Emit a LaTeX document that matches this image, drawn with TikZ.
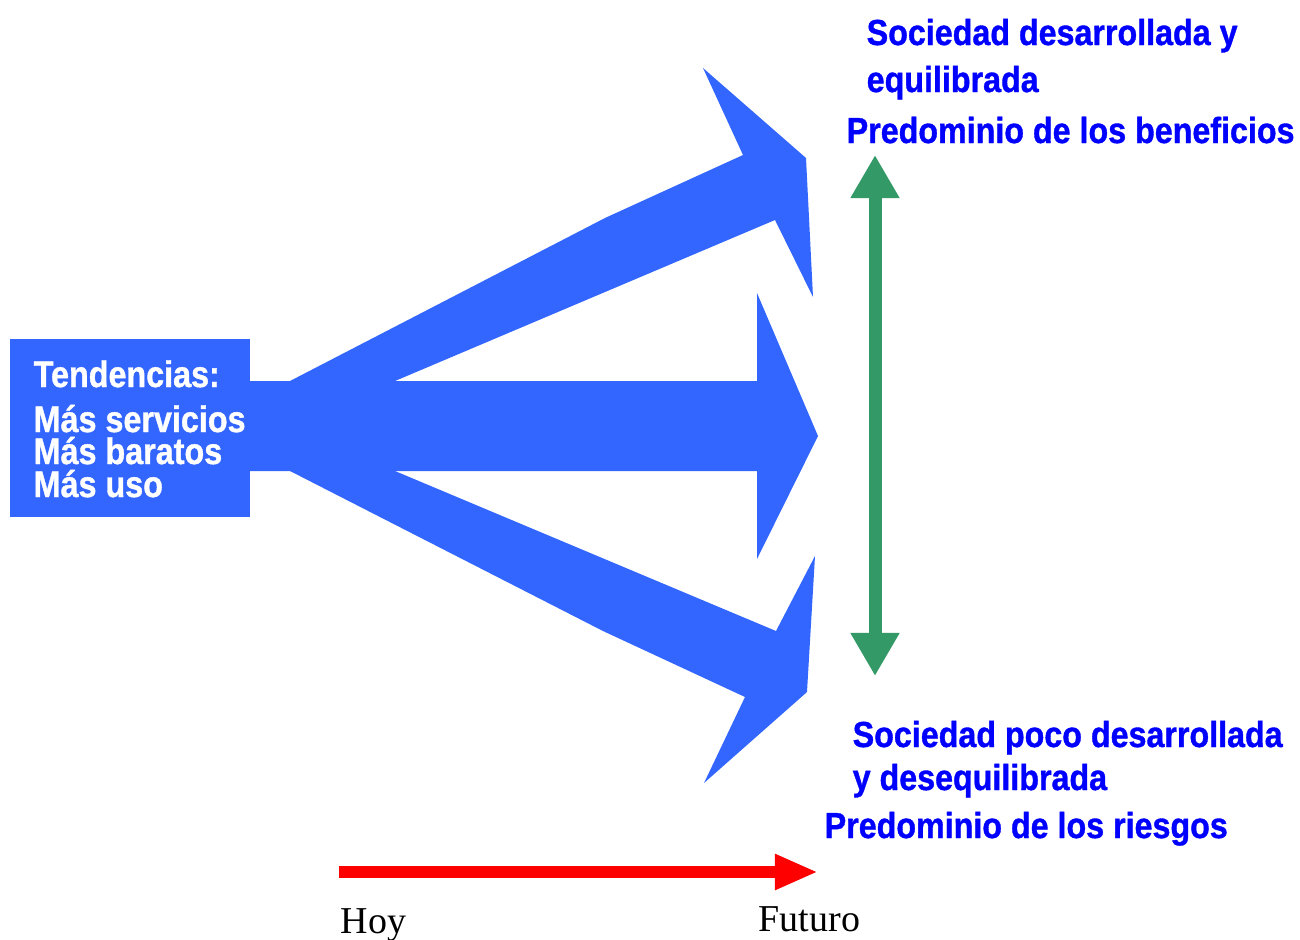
\documentclass[tikz,border=0pt]{standalone}
\usepackage{fontspec}
\usepackage{tikz}
\usetikzlibrary{arrows.meta, positioning}
\newfontfamily\impactfont[FakeStretch=0.875, BoldFeatures={FakeBold=1}]{Liberation Sans}
\newfontfamily\impactwide[FakeStretch=0.89, BoldFeatures={FakeBold=1}]{Liberation Sans}
\newfontfamily\timesfont{Liberation Serif}
\definecolor{flecha}{RGB}{51,102,255}
\definecolor{titulo}{RGB}{0,0,255}
\definecolor{verde}{RGB}{51,153,102}
\tikzset{every node/.style={inner sep=0pt}, % No padding round the texts
tendbox/.style={ % The box with the trends
fill=flecha, minimum width=2.4cm, minimum height=1.77cm},
blanco/.style={ % White text in the box
anchor=base west, text=white, font=\impactfont\bfseries\fontsize{10.5}{12}\selectfont},
azul/.style={ % Blue headings on the right
anchor=base west, text=titulo, font=\impactwide\bfseries\fontsize{10.3}{12}\selectfont},
tiempo/.style={ % Labels of the time line
anchor=base west, font=\timesfont\fontsize{10.8}{13}\selectfont},
fat/.style={fill=flecha}} % The three big arrows

\begin{document}
\begin{tikzpicture}[x=0.01cm, y=-0.01cm]
    \useasboundingbox (0,0) rectangle (1300,939);

    % three arrows out of the box
    \fill[fat] (290,381) -- (605,218) -- (743,155) -- (703,68) -- (806,158)
        -- (813,297) -- (775,220) -- (395,381) -- cycle;
    \fill[fat] (240,381) -- (757,381) -- (757,293) -- (818,436) -- (757,559)
        -- (757,471) -- (240,471) -- cycle;
    \fill[fat] (290,471) -- (603,631) -- (745,697) -- (704,783) -- (807,692)
        -- (815,556) -- (776,631) -- (395,471) -- cycle;

    \node[tendbox] (tend) at (130,428) {};
    \node[blanco] (t1) at (33,387) {Tendencias:};
    \node[blanco] (t2) at (33,432) {Más servicios};
    \node[blanco] (t3) at (33,464) {Más baratos};
    \node[blanco] (t4) at (33,497) {Más uso};

    \node[azul] (des1) at (866,45) {Sociedad desarrollada y};
    \node[azul] (des2) at (866,92) {equilibrada};
    \node[azul] (ben) at (846,143) {Predominio de los beneficios};
    \node[azul] (poco1) at (852,747) {Sociedad poco desarrollada};
    \node[azul] (poco2) at (852,790) {y desequilibrada};
    \node[azul] (rie) at (824,838) {Predominio de los riesgos};

    \coordinate (arriba) at (875,155);
    \coordinate (abajo) at (875,676);
    \draw[verde, line width=0.13cm, {Triangle[length=0.43cm, width=0.46cm]}-{Triangle[length=0.43cm, width=0.46cm]}] (arriba) -- (abajo);

    \node[tiempo] (hoy) at (340,933) {Hoy};
    \node[tiempo] (futuro) at (758,931) {Futuro};
    \coordinate (ahora) at (339,872);
    \coordinate (luego) at (818,872);
    \draw[red, line width=0.12cm, -{Triangle[length=0.43cm, width=0.33cm]}] (ahora) -- (luego);

\end{tikzpicture}
\end{document}
